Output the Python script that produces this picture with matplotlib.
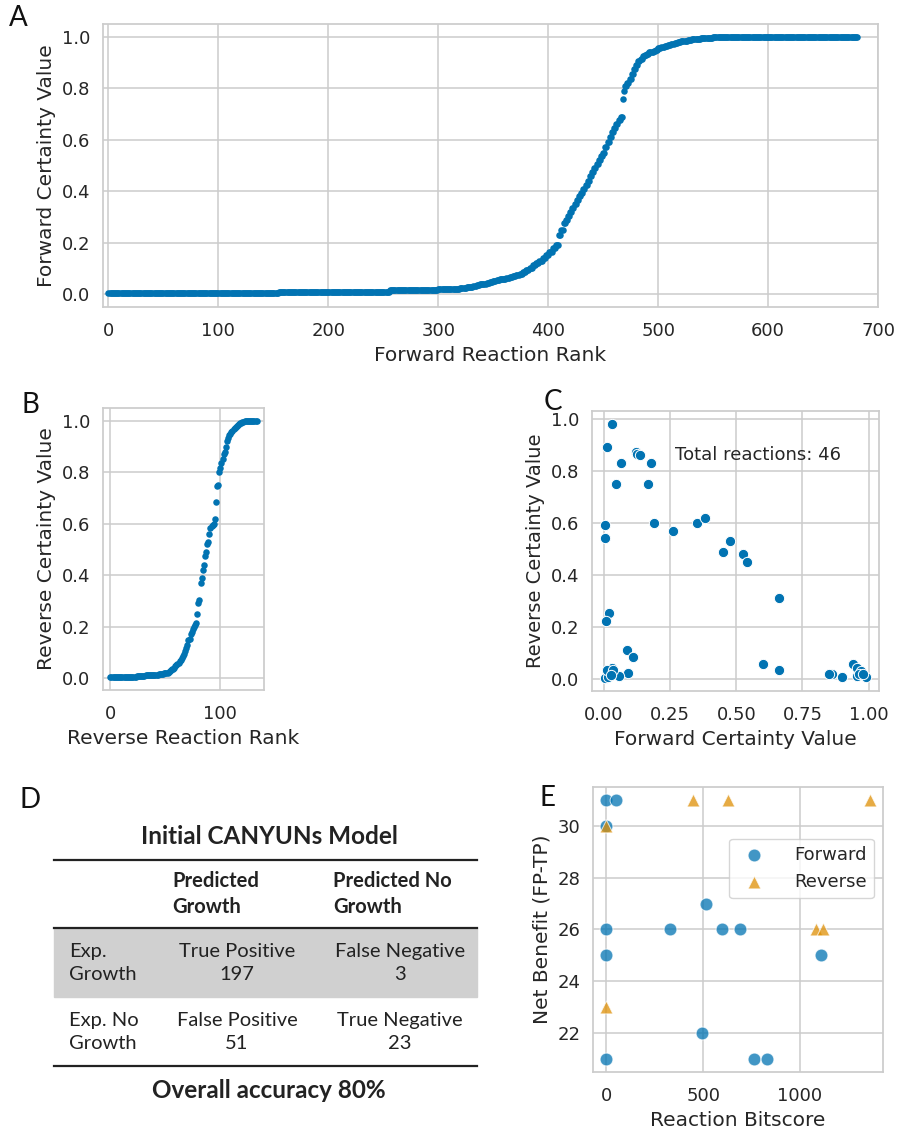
import numpy as np
import matplotlib
matplotlib.use("Agg")
import matplotlib.pyplot as plt
from matplotlib.patches import Rectangle
from matplotlib.lines import Line2D

BLUE = "#0173b2"
ORANGE = "#de8f05"
GRID = "#cccccc"
TXT = "#262626"

# ---- A: forward certainty values sorted by rank (value, run length) ----
fwd_levels = [0.004, 0.009, 0.015, 0.02,
              0.022, 0.024, 0.027, 0.029, 0.032, 0.035,
              0.038, 0.041, 0.044, 0.047, 0.05, 0.054,
              0.057, 0.06, 0.063, 0.066, 0.07, 0.074,
              0.078, 0.085, 0.093, 0.102, 0.112, 0.122,
              0.13, 0.14, 0.152, 0.164, 0.178, 0.192,
              0.228, 0.25, 0.275, 0.29, 0.305, 0.32, 0.335, 0.35, 0.365, 0.38,
              0.395, 0.41, 0.425, 0.44, 0.46, 0.475, 0.49, 0.505, 0.52, 0.535,
              0.55, 0.57, 0.59, 0.61, 0.63, 0.645, 0.66, 0.675, 0.69,
              0.76, 0.79, 0.81, 0.82, 0.835, 0.855, 0.875, 0.89, 0.905,
              0.915, 0.925, 0.93, 0.935, 0.94, 0.943, 0.946, 0.95,
              0.955, 0.96, 0.965, 0.97, 0.973, 0.976, 0.979, 0.982, 0.985,
              0.988, 0.99, 0.992, 0.994, 0.996, 0.997, 0.998, 0.999,
              1.0]
fwd_counts = [155, 101, 44, 20,
              3, 3, 3, 3, 3, 3,
              3, 3, 3, 3, 3, 3,
              3, 3, 3, 3, 3, 3,
              3, 3, 3, 3, 3, 3,
              3, 3, 3, 3, 3, 3,
              2, 2, 2, 2, 2, 2, 2, 2, 2, 2,
              2, 2, 2, 2, 2, 2, 2, 2, 2, 2,
              2, 2, 2, 2, 2, 2, 2, 2, 2,
              1, 1, 2, 2, 2, 2, 2, 2, 2,
              2, 2, 2, 2, 2, 2, 2, 2,
              3, 3, 3, 3, 3, 3, 3, 3, 3,
              4, 4, 4, 4, 4, 3, 3, 3,
              126]

# ---- B: reverse certainty values sorted by rank ----
rev_values = ([0.003] * 16 + [0.005] * 8 + [0.008] * 8 + [0.01] * 6 + [0.012] * 6
              + [0.015] * 5 + [0.018] * 4
              + [0.023, 0.026, 0.03, 0.033, 0.036, 0.04, 0.045, 0.05, 0.055, 0.06,
                 0.065, 0.07, 0.077, 0.085, 0.095, 0.105, 0.115, 0.13, 0.148, 0.152,
                 0.17, 0.18, 0.19, 0.2, 0.205, 0.215, 0.25, 0.29, 0.305, 0.37,
                 0.39, 0.42, 0.44, 0.475, 0.49, 0.52, 0.53, 0.56, 0.585, 0.59,
                 0.595, 0.6, 0.62, 0.685, 0.745, 0.75, 0.8, 0.815, 0.835, 0.85,
                 0.87, 0.88, 0.9, 0.92, 0.935, 0.945, 0.95, 0.957, 0.962, 0.967,
                 0.972, 0.977, 0.981, 0.985, 0.988, 0.99, 0.993, 0.995, 0.997, 0.998]
              + [1.0] * 11)

# ---- C: reactions with both directions ----
both_fwd = [0.03, 0.01, 0.064, 0.045, 0.12, 0.125, 0.136, 0.177, 0.168, 0.19,
            0.26, 0.35, 0.38, 0.45, 0.475, 0.525, 0.54, 0.66, 0.60, 0.66,
            0.004, 0.004, 0.019, 0.009, 0.086, 0.11, 0.09, 0.056, 0.029, 0.01,
            0.004, 0.016, 0.022, 0.012, 0.035, 0.86, 0.85, 0.90, 0.94, 0.955,
            0.957, 0.972, 0.99, 0.965, 0.98, 0.025]
both_rev = [0.98, 0.89, 0.83, 0.75, 0.87, 0.865, 0.86, 0.83, 0.75, 0.60,
            0.57, 0.60, 0.62, 0.49, 0.53, 0.48, 0.45, 0.31, 0.06, 0.035,
            0.59, 0.54, 0.256, 0.224, 0.113, 0.086, 0.023, 0.013, 0.042, 0.03,
            0.004, 0.01, 0.03, 0.035, 0.035, 0.019, 0.02, 0.008, 0.06, 0.042,
            0.013, 0.03, 0.008, 0.02, 0.022, 0.015]

# ---- D: confusion table ----
table_title = "Initial CANYUNs Model"
col_headers = ["Predicted\nGrowth", "Predicted No\nGrowth"]
row_headers = ["Exp.\nGrowth", "Exp. No\nGrowth"]
cell_names = [["True Positive", "False Negative"], ["False Positive", "True Negative"]]
cell_counts = [[197, 3], [51, 23]]

# ---- E: net benefit vs bitscore ----
fwd_bits = [0, 51, 0, 517, 0, 329, 600, 688, 0, 1109, 495, 0, 765, 828]
fwd_net = [31, 31, 30, 27, 26, 26, 26, 26, 25, 25, 22, 21, 21, 21]
rev_bits = [447, 628, 1360, 0, 1080, 1118, 0]
rev_net = [31, 31, 31, 30, 26, 26, 23]

W, H = 900, 1133
fig = plt.figure(figsize=(W / 100, H / 100), dpi=100)


def box(l, t, r, b):
    return [l / W, 1 - b / H, (r - l) / W, (b - t) / H]


def style(ax):
    ax.set_facecolor("white")
    ax.grid(True, color=GRID, lw=1.1)
    ax.set_axisbelow(True)
    for s in ax.spines.values():
        s.set_color(GRID)
        s.set_linewidth(1.25)
    ax.tick_params(length=0, labelsize=13, colors=TXT)
    ax.tick_params(axis="x", pad=11)
    ax.tick_params(axis="y", pad=9)


LBL = 14.5

axA = fig.add_axes(box(103, 24, 878, 307))
fwd_vals = np.repeat(fwd_levels, fwd_counts)
axA.scatter(np.arange(len(fwd_vals)), fwd_vals, s=22, color=BLUE, lw=0)
axA.set_xlim(-5, 700)
axA.set_ylim(-0.05, 1.05)
axA.set_xticks(range(0, 701, 100))
axA.set_yticks(np.arange(0, 1.01, 0.2))
axA.set_xlabel("Forward Reaction Rank", fontsize=LBL, color=TXT)
axA.set_ylabel("Forward Certainty Value", fontsize=LBL, color=TXT)
style(axA)

axB = fig.add_axes(box(103, 408, 264, 690))
axB.scatter(np.arange(len(rev_values)), rev_values, s=22, color=BLUE, lw=0)
axB.set_xticks([0, 100])
axB.set_yticks(np.arange(0, 1.01, 0.2))
axB.set_xlabel("Reverse Reaction Rank", fontsize=LBL, color=TXT)
axB.set_ylabel("Reverse Certainty Value", fontsize=LBL, color=TXT)
style(axB)

axC = fig.add_axes(box(592, 411, 879, 691))
axC.scatter(both_fwd, both_rev, s=55, color=BLUE, edgecolor="white", lw=0.7)
axC.set_xticks([0, 0.25, 0.5, 0.75, 1.0])
axC.set_yticks(np.arange(0, 1.01, 0.2))
axC.text(0.27, 0.86, f"Total reactions: {len(both_fwd)}", fontsize=13, color=TXT, va="center")
axC.set_xlabel("Forward Certainty Value", fontsize=LBL, color=TXT)
axC.set_ylabel("Reverse Certainty Value", fontsize=14, color=TXT)
style(axC)

axE = fig.add_axes(box(593, 787, 883, 1072))
axE.scatter(fwd_bits, fwd_net, s=85, color=BLUE, alpha=0.75, edgecolor="white", lw=0.7, label="Forward")
axE.scatter(rev_bits, rev_net, s=85, marker="^", color=ORANGE, alpha=0.75, edgecolor="white", lw=0.7, label="Reverse")
axE.set_xticks([0, 500, 1000])
axE.set_yticks([22, 24, 26, 28, 30])
axE.set_xlabel("Reaction Bitscore", fontsize=LBL, color=TXT)
axE.set_ylabel("Net Benefit (FP-TP)", fontsize=LBL, color=TXT)
style(axE)
leg = axE.legend(loc="upper right", bbox_to_anchor=(1.0, 0.85), fontsize=13, frameon=True,
                 edgecolor=GRID, markerscale=1.0, handletextpad=1.2)
for t in leg.get_texts():
    t.set_color(TXT)

# ---- D: table drawn in pixel coordinates ----
axD = fig.add_axes([0, 0, 1, 1])
axD.set_xlim(0, W)
axD.set_ylim(H, 0)
axD.axis("off")
axD.patch.set_alpha(0)
FT = ["Lato", "DejaVu Sans"]
TC = "#222222"
tl, tr = 54, 477
FS = 14.5
axD.text(269, 837, table_title, fontsize=17.5, fontweight="bold", family=FT, color=TC, ha="center", va="center")
axD.add_line(Line2D([tl, tr], [860, 860], color=TC, lw=1.6))
axD.add_line(Line2D([tl, tr], [928, 928], color=TC, lw=1.6))
axD.add_patch(Rectangle((tl, 928), tr - tl, 69, color="#d0d0d0", zorder=0))
axD.add_line(Line2D([tl, tr], [1066, 1066], color=TC, lw=1.6))
col_x = [172, 333]
col_c = [237, 400]
for j, h in enumerate(col_headers):
    axD.text(col_x[j], 894, h, fontsize=FS, fontweight="bold", family=FT, color=TC,
             ha="left", va="center", linespacing=1.4)
row_y = [963, 1032]
for i, h in enumerate(row_headers):
    axD.text(69, row_y[i], h, fontsize=FS, family=FT, color=TC, ha="left", va="center", linespacing=1.4)
    for j in range(2):
        axD.text(col_c[j], row_y[i], f"{cell_names[i][j]}\n{cell_counts[i][j]}", fontsize=FS,
                 family=FT, color=TC, ha="center", va="center", linespacing=1.4)
total = sum(sum(r) for r in cell_counts)
acc = (cell_counts[0][0] + cell_counts[1][1]) / total
axD.text(269, 1090, f"Overall accuracy {acc:.0%}", fontsize=17.5, fontweight="bold", family=FT,
         color=TC, ha="center", va="center")

# panel letters
for letter, (x, y) in {"A": (18, 18), "B": (30, 405), "C": (553, 402),
                       "D": (30, 800), "E": (547, 798)}.items():
    fig.text(x / W, 1 - y / H, letter, fontsize=20, family=FT, color="#111111", ha="center", va="center")

fig.savefig("out.png", dpi=100)
